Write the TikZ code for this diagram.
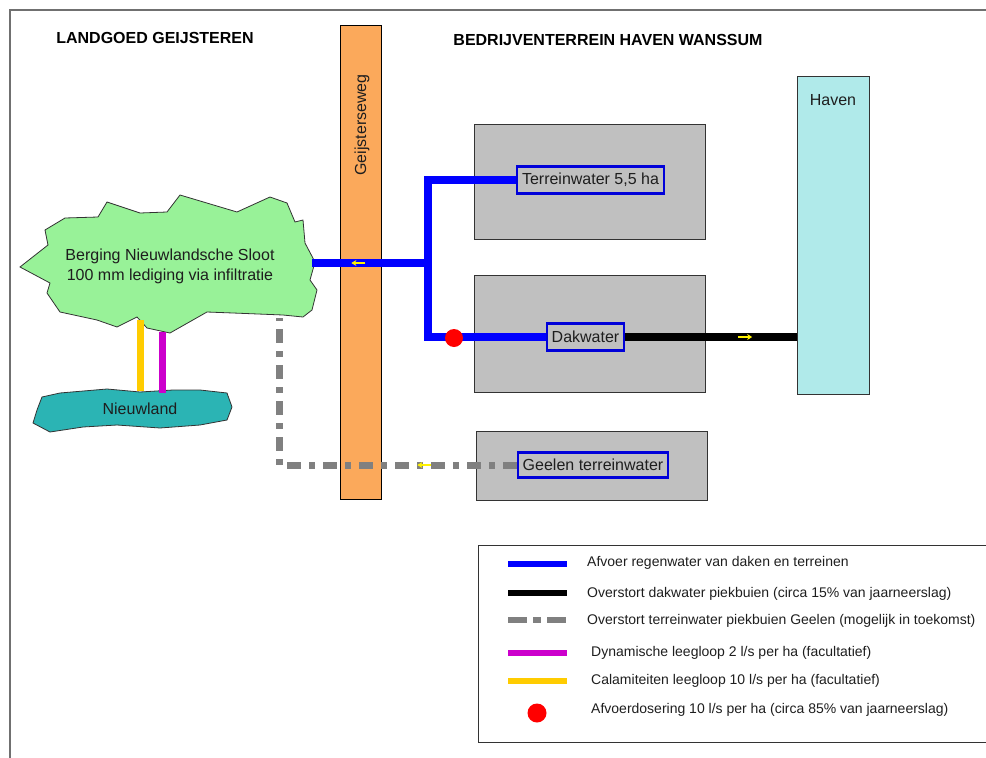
\documentclass[tikz,border=0pt]{standalone}
\usepackage{fontspec}
\setmainfont{Liberation Sans}
\usetikzlibrary{arrows.meta,decorations.markings}

\definecolor{wegoranje}{RGB}{251,169,91}
\definecolor{veldgrijs}{RGB}{192,192,192}
\definecolor{havenblauw}{RGB}{176,234,234}
\definecolor{wolkgroen}{RGB}{152,242,152}
\definecolor{wolkteal}{RGB}{43,180,180}
\definecolor{pijpgrijs}{RGB}{128,128,128}
\definecolor{calgeel}{RGB}{255,204,0}
\definecolor{dynpaars}{RGB}{204,0,204}
\definecolor{randgrijs}{RGB}{112,112,112}
\definecolor{tekst}{RGB}{30,30,30}

\tikzset{
  tekstgroot/.style={font=\fontsize{16pt}{20pt}\selectfont, text=tekst},
  titel/.style={font=\fontsize{16pt}{20pt}\selectfont\bfseries, text=black},
  veld/.style={draw=black!80, line width=1pt, fill=veldgrijs},
  label/.style={tekstgroot, draw=blue!85!black, line width=2.2pt, inner xsep=5pt, minimum height=27pt},
  wolk/.style={draw=black!80, line width=0.8pt},
  afvoer/.style={draw=blue, line width=8pt},
  overstort/.style={draw=black, line width=8pt},
  geelen/.style={draw=pijpgrijs, line width=7pt, dash pattern=on 14pt off 8pt on 6pt off 8pt},
  dynamisch/.style={draw=dynpaars, line width=7pt},
  calamiteit/.style={draw=calgeel, line width=7pt},
  pijl/.style={postaction={decorate, decoration={markings,
    mark=at position #1 with {\draw[solid, yellow, line width=1.4pt, -{Stealth[length=5pt,width=6pt]}] (-7pt,0) -- (7pt,0);}}}},
  legtekst/.style={font=\fontsize{14pt}{17pt}\selectfont, text=tekst, anchor=west, inner sep=0pt}
}

\begin{document}
\begin{tikzpicture}[x=1pt, y=-1pt]
  \useasboundingbox (0,0) rectangle (986,758);
  % kader
  \draw[randgrijs, line width=2pt] (10,758) -- (10,10) -- (986,10);

  % titels
  \node[titel] (landgoed) at (155,38) {LANDGOED GEIJSTEREN};
  \node[titel] (bedrijf) at (608,40) {BEDRIJVENTERREIN HAVEN WANSSUM};

  % weg, velden en haven
  \node[draw=black, line width=1pt, fill=wegoranje, minimum width=41pt, minimum height=474pt] (weg) at (360.5,262) {};
  \node[tekstgroot, rotate=90] (wegnaam) at (362,125) {Geijsterseweg};
  \node[veld, minimum width=231pt, minimum height=115pt] (vak1) at (589.5,182) {};
  \node[veld, minimum width=231pt, minimum height=117pt] (vak2) at (589.5,333.5) {};
  \node[veld, minimum width=231pt, minimum height=69pt] (vak3) at (591.5,465.5) {};
  \node[draw=black!80, line width=1pt, fill=havenblauw, minimum width=72pt, minimum height=318pt] (haven) at (833,235) {};
  \node[tekstgroot] (havennaam) at (833,100) {Haven};

  % wolken
  \draw[wolk, fill=wolkgroen] plot coordinates {(20,267) (48,245) (45,230) (65,218) (98,217) (107,202) (140,213)
    (167,212) (180,195) (237,212) (270,197) (287,203) (295,222) (303,220) (305,243) (315,262) (310,280)
    (317,290) (312,310) (303,317) (283,315) (233,313) (207,312) (170,333) (147,328) (137,317) (117,327)
    (97,320) (60,312) (47,293) (50,283)} -- cycle;
  \node[tekstgroot, align=center] (berging) at (170,266) {Berging Nieuwlandsche Sloot\\100 mm lediging via infiltratie};
  \draw[wolk, fill=wolkteal] plot coordinates {(33,423) (37,410) (42,397) (60,393) (107,389) (140,392) (173,390)
    (200,390) (227,393) (232,407) (227,420) (200,425) (160,428) (117,425) (83,427) (50,432)} -- cycle;
  \node[tekstgroot] (nieuwland) at (140,409) {Nieuwland};

  % labels
  \node[label] (terrein) at (590.5,180) {Terreinwater 5,5 ha};
  \node[label] (dak) at (585.5,337) {Dakwater};
  \node[label, minimum height=25pt] (geelen) at (593,465) {Geelen terreinwater};

  % aansluitpunten
  \coordinate (split) at (428,263);
  \coordinate (bergingOost) at (312,263);
  \coordinate (bergingZuid) at (279,318);
  \coordinate (calBoven) at (140.5,320);
  \coordinate (calOnder) at (140.5,391);
  \coordinate (dynBoven) at (162,332);
  \coordinate (dynOnder) at (162,393);

  % leidingen
  \draw[calamiteit] (calBoven) -- (calOnder);
  \draw[dynamisch] (dynBoven) -- (dynOnder);
  \draw[afvoer] (terrein.west) -| (split) |- (dak.west);
  \draw[afvoer, pijl=0.6] (split) -- (bergingOost);
  \draw[overstort, pijl=0.7] (dak.east) -- (dak.east -| haven.west);
  \draw[geelen, pijl=0.24] (geelen.west) -| (bergingZuid);
  \node[circle, fill=red, inner sep=0pt, minimum size=18pt] (dosering) at (454,338) {};

  % legenda
  \draw[black!80, line width=1pt] (478,545) rectangle (995,742);
  \node[legtekst] (leg1) at (587,563) {Afvoer regenwater van daken en terreinen};
  \node[legtekst] (leg2) at (587,594) {Overstort dakwater piekbuien (circa 15\% van jaarneerslag)};
  \node[legtekst] (leg3) at (587,621) {Overstort terreinwater piekbuien Geelen (mogelijk in toekomst)};
  \node[legtekst] (leg4) at (591,653) {Dynamische leegloop 2 l/s per ha (facultatief)};
  \node[legtekst] (leg5) at (591,681) {Calamiteiten leegloop 10 l/s per ha (facultatief)};
  \node[legtekst] (leg6) at (591,710) {Afvoerdosering 10 l/s per ha (circa 85\% van jaarneerslag)};
  \draw[afvoer, line width=6pt] (508,564) -- (567,564);
  \draw[overstort, line width=6pt] (508,593) -- (567,593);
  \draw[geelen, line width=6pt, dash pattern=on 19pt off 6pt on 8pt off 6pt] (508,620) -- (567,620);
  \draw[dynamisch, line width=6pt] (508,653) -- (567,653);
  \draw[calamiteit, line width=6pt] (508,681) -- (567,681);
  \node[circle, fill=red, inner sep=0pt, minimum size=19pt] (legdot) at (537,713) {};
\end{tikzpicture}
\end{document}
